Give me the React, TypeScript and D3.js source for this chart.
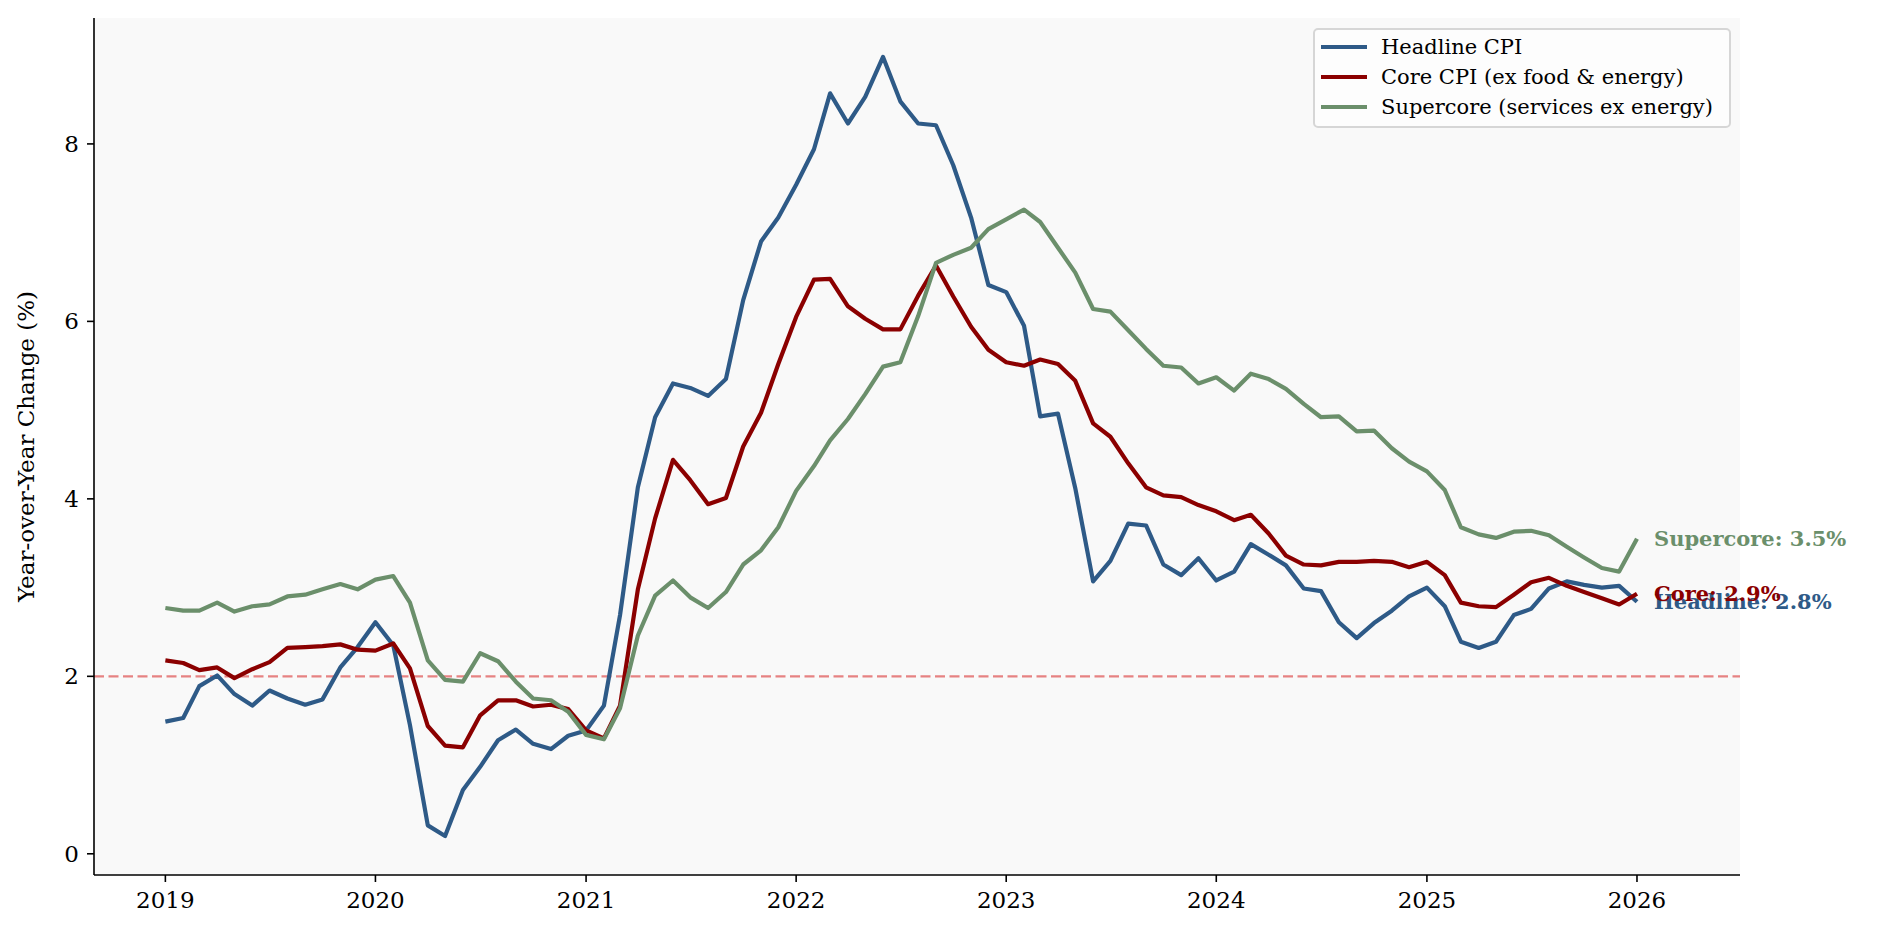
import React from 'react';
import * as d3 from 'd3';

// monthly YoY %, Jan 2019 .. Jan 2026
const headline = [
  1.49, 1.53, 1.89, 2.01, 1.80, 1.67, 1.84, 1.75, 1.68, 1.74, 2.10, 2.33,
  2.61, 2.35, 1.45, 0.32, 0.20, 0.72, 0.98, 1.28, 1.40, 1.24, 1.18, 1.33,
  1.39, 1.67, 2.69, 4.13, 4.92, 5.30, 5.25, 5.16, 5.35, 6.24, 6.90, 7.17,
  7.54, 7.94, 8.57, 8.23, 8.53, 8.98, 8.48, 8.23, 8.21, 7.76, 7.17, 6.41,
  6.33, 5.95, 4.93, 4.96, 4.12, 3.07, 3.30, 3.72, 3.70, 3.26, 3.14, 3.33,
  3.08, 3.18, 3.49, 3.37, 3.25, 2.99, 2.96, 2.61, 2.43, 2.60, 2.74, 2.90,
  3.00, 2.79, 2.39, 2.32, 2.39, 2.69, 2.76, 2.99, 3.07, 3.03, 3.00, 3.02,
  2.84,
];
const core = [
  2.18, 2.15, 2.07, 2.10, 1.98, 2.08, 2.16, 2.32, 2.33, 2.34, 2.36, 2.30,
  2.29, 2.37, 2.09, 1.44, 1.22, 1.20, 1.56, 1.73, 1.73, 1.66, 1.68, 1.63,
  1.39, 1.30, 1.67, 2.98, 3.78, 4.44, 4.21, 3.94, 4.01, 4.59, 4.97, 5.52,
  6.05, 6.47, 6.48, 6.17, 6.03, 5.91, 5.91, 6.29, 6.63, 6.28, 5.94, 5.68,
  5.54, 5.50, 5.57, 5.52, 5.33, 4.85, 4.70, 4.40, 4.13, 4.04, 4.02, 3.93,
  3.86, 3.76, 3.82, 3.61, 3.36, 3.26, 3.25, 3.29, 3.29, 3.30, 3.29, 3.23,
  3.29, 3.14, 2.83, 2.79, 2.78, 2.92, 3.06, 3.11, 3.02, 2.95, 2.88, 2.81,
  2.93,
];
const supercore = [
  2.77, 2.74, 2.74, 2.83, 2.73, 2.79, 2.81, 2.90, 2.92, 2.98, 3.04, 2.98,
  3.09, 3.13, 2.83, 2.18, 1.96, 1.94, 2.26, 2.17, 1.94, 1.75, 1.73, 1.60,
  1.34, 1.29, 1.64, 2.46, 2.91, 3.08, 2.89, 2.77, 2.95, 3.26, 3.42, 3.68,
  4.09, 4.37, 4.66, 4.90, 5.18, 5.49, 5.54, 6.06, 6.66, 6.75, 6.83, 7.04,
  7.15, 7.26, 7.12, 6.83, 6.55, 6.14, 6.11, 5.90, 5.69, 5.50, 5.48, 5.30,
  5.37, 5.22, 5.41, 5.35, 5.24, 5.07, 4.92, 4.93, 4.76, 4.77, 4.57, 4.42,
  4.31, 4.10, 3.68, 3.60, 3.56, 3.63, 3.64, 3.59, 3.46, 3.34, 3.22, 3.18,
  3.55,
];
const yearTicks = [2019, 2020, 2021, 2022, 2023, 2024, 2025, 2026];
const yTicks = [0, 2, 4, 6, 8];
const target = 2;

const series = [
  { name: 'Headline CPI', short: 'Headline', values: headline, color: '#2e5a87' },
  { name: 'Core CPI (ex food & energy)', short: 'Core', values: core, color: '#8b0000' },
  { name: 'Supercore (services ex energy)', short: 'Supercore', values: supercore, color: '#6b8f6b' },
];

const W = 1893;
const H = 941;
const m = { left: 94, right: 1740, top: 18, bottom: 875 };
const FONT = '"DejaVu Serif", serif';

const dates = headline.map((_, i) => new Date(2019, i, 1));

export default function App() {
  const x = d3.scaleTime()
    .domain([new Date(2018, 7, 30), new Date(2026, 5, 29)])
    .range([m.left, m.right]);

  const all = [...headline, ...core, ...supercore];
  const lo = d3.min(all) as number;
  const hi = d3.max(all) as number;
  const pad = (hi - lo) * 0.05;
  const y = d3.scaleLinear().domain([lo - pad, hi + pad]).range([m.bottom, m.top]);

  const line = d3.line<number>()
    .x((_, i) => x(dates[i]))
    .y((d) => y(d));

  const last = dates.length - 1;

  return (
    <svg width={W} height={H} style={{ position: 'absolute', left: 0, top: 0, background: '#fff' }}
      fontFamily={FONT}>
      <rect x={m.left} y={m.top} width={m.right - m.left} height={m.bottom - m.top} fill="#f9f9f9" />

      <line x1={m.left} x2={m.right} y1={y(target)} y2={y(target)}
        stroke="#e68282" strokeWidth={2.3} strokeDasharray="10 4.5" />

      {series.map((s) => (
        <path key={s.name} d={line(s.values) || ''} fill="none" stroke={s.color}
          strokeWidth={4.2} strokeLinejoin="round" />
      ))}

      {series.map((s) => (
        <text key={s.short} x={x(dates[last]) + 17} y={y(s.values[last])} dy="0.35em"
          fill={s.color} fontWeight="bold" fontSize={21}>
          {`${s.short}: ${s.values[last].toFixed(1)}%`}
        </text>
      ))}

      {/* axes */}
      <line x1={m.left} x2={m.left} y1={m.top} y2={m.bottom} stroke="#000" strokeWidth={1.6} />
      <line x1={m.left} x2={m.right} y1={m.bottom} y2={m.bottom} stroke="#000" strokeWidth={1.6} />
      {yTicks.map((t) => (
        <g key={t}>
          <line x1={m.left - 7} x2={m.left} y1={y(t)} y2={y(t)} stroke="#000" strokeWidth={1.6} />
          <text x={m.left - 15} y={y(t)} dy="0.35em" textAnchor="end" fontSize={23}>{t}</text>
        </g>
      ))}
      {yearTicks.map((yr) => {
        const px = x(new Date(yr, 0, 1));
        return (
          <g key={yr}>
            <line x1={px} x2={px} y1={m.bottom} y2={m.bottom + 7} stroke="#000" strokeWidth={1.6} />
            <text x={px} y={m.bottom + 33} textAnchor="middle" fontSize={23}>{yr}</text>
          </g>
        );
      })}
      <text transform={`translate(34, ${(m.top + m.bottom) / 2}) rotate(-90)`} textAnchor="middle"
        fontSize={23}>Year-over-Year Change (%)</text>

      {/* legend */}
      <rect x={1314} y={29} width={416} height={98} rx={4} fill="#fdfdfd" stroke="#d6d6d6" strokeWidth={2} />
      {series.map((s, i) => (
        <g key={s.name} transform={`translate(1321, ${47 + i * 30})`}>
          <line x1={0} x2={46} y1={0} y2={0} stroke={s.color} strokeWidth={4.2} />
          <text x={60} y={0} dy="0.35em" fontSize={21}>{s.name}</text>
        </g>
      ))}
    </svg>
  );
}
